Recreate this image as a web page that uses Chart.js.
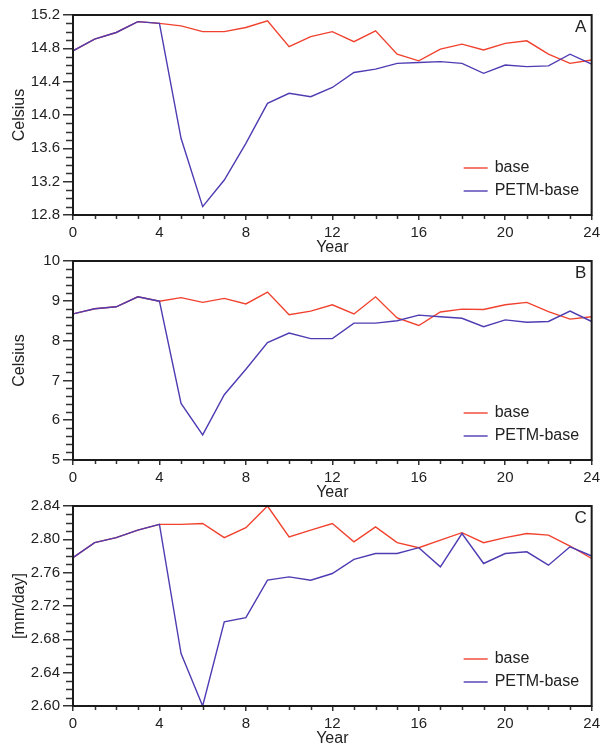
<!DOCTYPE html>
<html>
<head>
<meta charset="utf-8">
<script src="https://cdn.jsdelivr.net/npm/chart.js@4.4.0/dist/chart.umd.min.js"></script>
<style>
  html, body { margin: 0; padding: 0; background: #fff; overflow: hidden; }
  #wrap { position: relative; width: 604px; height: 745px; }
  canvas { position: absolute; left: 0; }
</style>
</head>
<body>
<div id="wrap">
  <canvas id="panelA" width="604" height="257" style="top:0px"></canvas>
  <canvas id="panelB" width="604" height="262" style="top:240px"></canvas>
  <canvas id="panelC" width="604" height="263" style="top:485px"></canvas>
</div>
<script>
"use strict";

// model years
const years = [0, 1, 2, 3, 4, 5, 6, 7, 8, 9, 10, 11, 12, 13, 14, 15, 16, 17, 18, 19, 20, 21, 22, 23, 24];
const yearTicks = [0, 4, 8, 12, 16, 20, 24];

// panel A - Celsius
const baseA = [14.77, 14.91, 14.99, 15.12, 15.10, 15.07, 15.00, 15.00, 15.05, 15.13, 14.82, 14.94, 15.00,
  14.88, 15.01, 14.73, 14.65, 14.79, 14.85, 14.78, 14.86, 14.89, 14.73, 14.62, 14.66];
const petmA = [14.77, 14.91, 14.99, 15.12, 15.10, 13.72, 12.90, 13.22, 13.66, 14.14, 14.26, 14.22, 14.33,
  14.51, 14.55, 14.62, 14.63, 14.64, 14.62, 14.50, 14.60, 14.58, 14.59, 14.73, 14.61];
const ticksA = [12.8, 13.2, 13.6, 14.0, 14.4, 14.8, 15.2];

// panel B - Celsius
const baseB = [8.67, 8.80, 8.85, 9.10, 8.99, 9.08, 8.96, 9.06, 8.92, 9.22, 8.65, 8.74, 8.90,
  8.67, 9.10, 8.57, 8.38, 8.72, 8.79, 8.78, 8.90, 8.96, 8.73, 8.54, 8.60];
const petmB = [8.67, 8.80, 8.85, 9.10, 8.99, 6.42, 5.63, 6.64, 7.28, 7.95, 8.19, 8.05, 8.05,
  8.44, 8.44, 8.50, 8.64, 8.60, 8.56, 8.35, 8.52, 8.46, 8.48, 8.74, 8.48];
const ticksB = [5, 6, 7, 8, 9, 10];

// panel C - precipitation
const baseC = [2.778, 2.796, 2.802, 2.811, 2.818, 2.818, 2.819, 2.802, 2.814, 2.840, 2.803, 2.811, 2.819,
  2.797, 2.815, 2.796, 2.790, 2.799, 2.808, 2.796, 2.802, 2.807, 2.805, 2.792, 2.777];
const petmC = [2.778, 2.796, 2.802, 2.811, 2.818, 2.663, 2.600, 2.701, 2.706, 2.751, 2.755, 2.751, 2.759,
  2.776, 2.783, 2.783, 2.790, 2.767, 2.807, 2.771, 2.783, 2.785, 2.769, 2.791, 2.780];
const ticksC = [2.60, 2.64, 2.68, 2.72, 2.76, 2.80, 2.84];

const FONT = '"Liberation Sans", Arial, sans-serif';
const RED = "rgb(240, 66, 46)";
const BLUE = "rgb(78, 60, 178)";
const INK = "#222";

// frame, short minor ticks, legend and panel letter
const panelDeco = {
  id: "panelDeco",
  afterDraw(chart, args, opts) {
    const ctx = chart.ctx;
    const a = chart.chartArea;
    const xs = chart.scales.x;
    const ys = chart.scales.y;
    ctx.save();

    // minor ticks
    ctx.strokeStyle = "#333";
    ctx.lineWidth = 1.5;
    ctx.beginPath();
    for (let v = ys.min; v <= ys.max + 1e-9; v += opts.minorY) {
      const isMajor = opts.majorY.some((m) => Math.abs(m - v) < 1e-6);
      if (isMajor) continue;
      const py = Math.round(ys.getPixelForValue(v)) + 0.5;
      ctx.moveTo(a.left - 7, py);
      ctx.lineTo(a.left, py);
    }
    years.forEach((yr) => {
      if (yearTicks.includes(yr)) return;
      const px = Math.round(xs.getPixelForValue(yr)) + 0.5;
      ctx.moveTo(px, a.bottom);
      ctx.lineTo(px, a.bottom + 4);
    });
    ctx.stroke();

    // frame
    ctx.strokeStyle = "#1a1a1a";
    ctx.lineWidth = 2;
    ctx.strokeRect(a.left, a.top, a.right - a.left, a.bottom - a.top);

    // legend
    ctx.font = "16px " + FONT;
    ctx.textBaseline = "middle";
    ctx.textAlign = "left";
    opts.order.forEach((idx, i) => {
      const ds = chart.data.datasets[idx];
      const y = a.bottom - 47 + i * 23;
      ctx.strokeStyle = ds.borderColor;
      ctx.lineWidth = 1.4;
      ctx.beginPath();
      ctx.moveTo(a.right - 128, y);
      ctx.lineTo(a.right - 104, y);
      ctx.stroke();
      ctx.fillStyle = INK;
      ctx.fillText(ds.label, a.right - 97, y);
    });

    // panel letter
    ctx.font = "17px " + FONT;
    ctx.textAlign = "center";
    ctx.fillText(opts.letter, a.right - 11, a.top + 12);
    ctx.restore();
  },
};

function makePanel(id, base, petm, yTicks, minorY, yTitle, letter, padTop, fmt) {
  const ctx = document.getElementById(id);
  new Chart(ctx, {
    type: "line",
    data: {
      labels: years,
      datasets: [
        {
          label: "PETM-base",
          data: years.map((yr, i) => ({ x: yr, y: petm[i] })),
          borderColor: BLUE,
          borderWidth: 1.4,
          pointRadius: 0,
          tension: 0,
        },
        {
          label: "base",
          data: years.map((yr, i) => ({ x: yr, y: base[i] })),
          borderColor: RED,
          borderWidth: 1.4,
          pointRadius: 0,
          tension: 0,
        },
      ],
    },
    options: {
      responsive: false,
      animation: false,
      layout: { padding: { top: padTop, right: 9, bottom: 0, left: 0 } },
      plugins: {
        legend: { display: false },
        tooltip: { enabled: false },
        panelDeco: { minorY: minorY, majorY: yTicks, order: [1, 0], letter: letter },
      },
      scales: {
        x: {
          type: "linear",
          min: 0,
          max: 24,
          afterBuildTicks: (s) => {
            s.ticks = yearTicks.map((v) => ({ value: v }));
          },
          afterFit: (s) => {
            s.height = 42;
          },
          border: { display: false },
          grid: { drawOnChartArea: false, tickLength: 5, color: "#333", lineWidth: 1.5 },
          ticks: { color: INK, font: { family: FONT, size: 15 }, padding: 4, maxRotation: 0, autoSkip: false },
          title: { display: true, text: "Year", color: INK, font: { family: FONT, size: 16 }, padding: 0 },
        },
        y: {
          min: yTicks[0],
          max: yTicks[yTicks.length - 1],
          afterBuildTicks: (s) => {
            s.ticks = yTicks.map((v) => ({ value: v }));
          },
          afterFit: (s) => {
            s.width = 73;
          },
          border: { display: false },
          grid: { drawOnChartArea: false, tickLength: 10, color: "#333", lineWidth: 1.5 },
          ticks: {
            color: INK,
            font: { family: FONT, size: 15 },
            padding: 3,
            autoSkip: false,
            callback: (v) => fmt(v),
          },
          title: {
            display: true,
            text: yTitle,
            color: INK,
            font: { family: FONT, size: 16 },
            padding: { top: 10, bottom: 0 },
          },
        },
      },
    },
    plugins: [panelDeco],
  });
}

makePanel("panelA", baseA, petmA, ticksA, 0.1, "Celsius", "A", 15, (v) => v.toFixed(1));
makePanel("panelB", baseB, petmB, ticksB, 0.2, "Celsius", "B", 21, (v) => String(Math.round(v)));
makePanel("panelC", baseC, petmC, ticksC, 0.01, "[mm/day]", "C", 21, (v) => v.toFixed(2));
</script>
</body>
</html>
